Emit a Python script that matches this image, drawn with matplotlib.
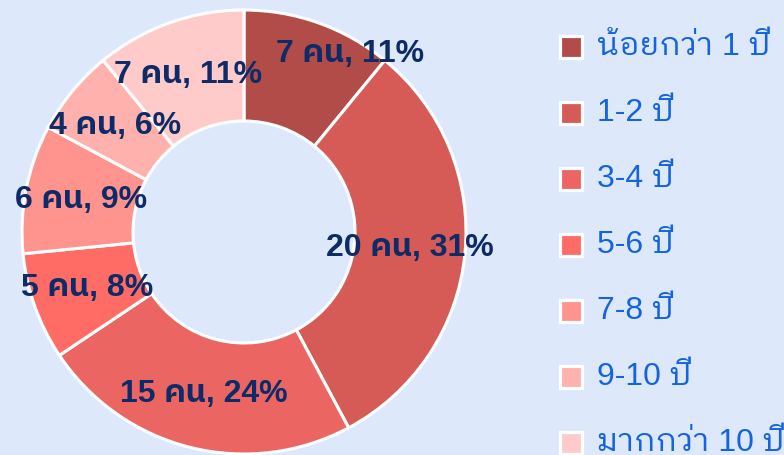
import matplotlib
matplotlib.use("Agg")
import matplotlib.pyplot as plt
import numpy as np
from matplotlib.patches import Rectangle

# years of experience groups and head counts
groups = ["น้อยกว่า 1 ปี", "1-2 ปี", "3-4 ปี", "5-6 ปี", "7-8 ปี", "9-10 ปี", "มากกว่า 10 ปี"]
counts = [7, 20, 15, 5, 6, 4, 7]
colors = ["#b24c48", "#d65b57", "#eb6562", "#ff6c66", "#ff948f", "#ffb1ae", "#ffcbca"]

BG = "#dde8fb"
LABEL_COLOR = "#0d2b66"
LEGEND_COLOR = "#1563e0"
W, H = 784, 455


def rounded_percents(values):
    # largest remainder rounding so the percents add up to 100
    raw = np.array(values) / sum(values) * 100
    base = np.floor(raw).astype(int)
    left = 100 - base.sum()
    order = np.argsort(-(raw - base), kind="stable")
    base[order[:left]] += 1
    return base


def px(x, y):
    return x / W, 1 - y / H


percents = rounded_percents(counts)

fig = plt.figure(figsize=(W / 100, H / 100), dpi=100, facecolor=BG)
cx, cy, r = 244, 232, 222
ax = fig.add_axes([(cx - r) / W, (H - cy - r) / H, 2 * r / W, 2 * r / H])
ax.set_facecolor(BG)

wedges, _ = ax.pie(counts, colors=colors, startangle=90, counterclock=False,
                   radius=1, wedgeprops=dict(width=0.5, edgecolor="white", linewidth=2.2))
ax.set_xlim(-1, 1)
ax.set_ylim(-1, 1)
ax.set_aspect("equal")
ax.axis("off")

label_font = ["Liberation Sans", "IBM Plex Sans Thai", "DejaVu Sans"]
for i, (w, n, p) in enumerate(zip(wedges, counts, percents)):
    mid = np.deg2rad((w.theta1 + w.theta2) / 2)
    x, y = 0.75 * np.cos(mid), 0.75 * np.sin(mid)
    # first label would collide with the last one, push it aside
    offset = (36, 15) if i == 0 else (0, 0)
    ax.annotate(f"{n} คน, {p}%", (x, y), xytext=offset, textcoords="offset points",
                ha="center", va="center", fontsize=23, fontweight="bold",
                color=LABEL_COLOR, family=label_font, annotation_clip=False)

legend_font = ["Liberation Sans", "IBM Plex Sans Thai Looped", "DejaVu Sans"]
for i, (g, c) in enumerate(zip(groups, colors)):
    yc = 47 + 66 * i
    x0, y0 = px(560, yc + 11)
    fig.add_artist(Rectangle((x0, y0), 22 / W, 22 / H, transform=fig.transFigure,
                             facecolor=c, edgecolor="white", linewidth=2.3))
    tx, ty = px(597, yc)
    fig.text(tx, ty, g, ha="left", va="center", fontsize=23, color=LEGEND_COLOR,
             family=legend_font)

fig.savefig("out.png", dpi=100, facecolor=BG)
